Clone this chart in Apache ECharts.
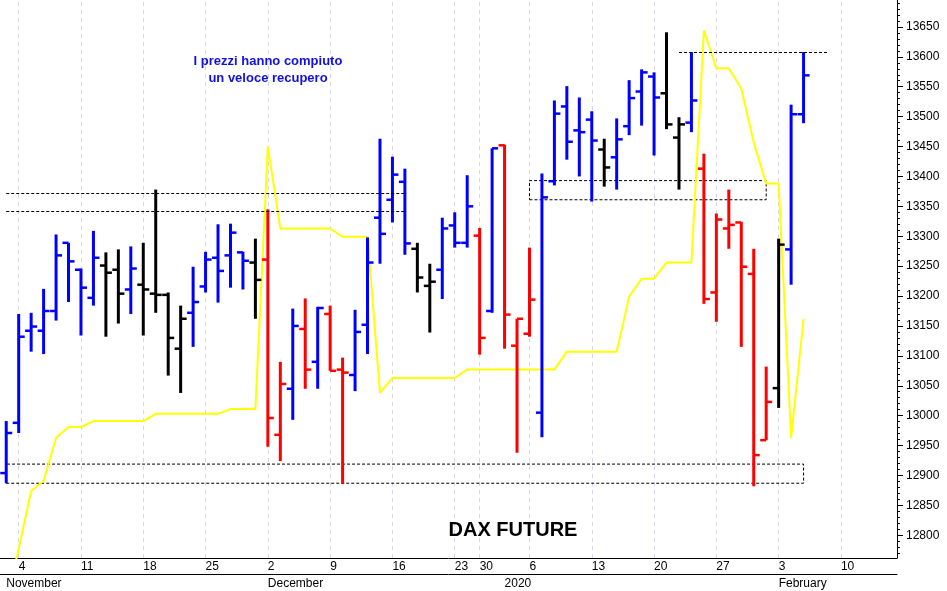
<!DOCTYPE html>
<html>
<head>
<meta charset="utf-8">
<script src="https://cdn.jsdelivr.net/npm/echarts@6/dist/echarts.min.js"></script>
<style>html,body{margin:0;padding:0;background:#fff}#main{width:947px;height:591px}</style>
</head>
<body>
<div id="main"></div>
<script>
// trading days
const novDays = [1,4,5,6,7,8,11,12,13,14,15,18,19,20,21,22,25,26,27,28,29]
const decDays = [2,3,4,5,6,9,10,11,12,13,16,17,18,19,20,23,27,30,31]
const janDays = [2,3,6,7,8,9,10,13,14,15,16,17,20,21,22,23,24,27,28,29,30,31]
const febDays = [3,4,5,6,7,10,11,12,13,14]

const highs = [12991,13170,13172,13212,13303,13289,13246,13309,13273,13278,13283,13289,13378,13206,13184,13249,13274,13320,13321,13274,13296,
  13345,13090,13179,13196,13182,13184,13097,13177,13298,13463,13433,13413,13289,13254,13331,13340,13402,13314,13447,
  13453,13162,13281,13405,13527,13551,13532,13509,13463,13497,13561,13579,13574,13641,13499,13608,13438,13338,13378,13324,13279,13082,
  13296,13520,13608]
const lows = [12887,12971,13107,13103,13159,13190,13134,13184,13132,13154,13170,13134,13172,13067,13038,13115,13206,13189,13214,13211,13162,
  12948,12924,12993,13045,13045,13075,12886,13041,13103,13254,13323,13269,13206,13139,13195,13281,13281,13102,13172,
  13112,12938,13132,12964,13385,13428,13400,13358,13383,13378,13469,13485,13435,13479,13378,13474,13187,13157,13279,13115,12882,12959,
  13013,13219,13489]
const opens = [12904,12988,13142,13142,13175,13289,13244,13197,13251,13244,13211,13219,13204,13202,13112,13172,13216,13264,13268,13273,13256,
  13261,12968,13045,13145,13090,13170,13077,13068,13152,13331,13361,13391,13279,13217,13244,13318,13289,13301,13175,
  13452,13117,13137,13005,13392,13517,13477,13495,13445,13432,13484,13542,13567,13539,13465,13490,13413,13206,13313,13323,13237,12959,
  13046,13278,13504]
const closes = [12971,13132,13149,13175,13268,13258,13214,13264,13239,13204,13246,13211,13202,13130,13162,13190,13261,13242,13306,13259,13227,
  12996,13053,13150,13077,13180,13075,13072,13140,13256,13304,13403,13288,13231,13224,13313,13289,13350,13130,13447,
  13169,13162,13194,13365,13505,13458,13474,13460,13415,13462,13531,13574,13532,13487,13487,13527,13195,13328,13319,13249,12934,13023,
  13286,13504,13569]
const barColors = 'bbbbbbbbkkbkkkkbbbbbk' + 'rrbrbrrbbbbbkkbbbrb' + 'rrrbbbbbkbbbbkkbrrrrrr' + 'kbb'
const yellowLine = [12690,12777,12874,12891,12963,12981,12981,12991,12991,12991,12991,12991,13003,13003,13003,13003,13003,13003,13011,13011,13011,
  13450,13313,13313,13313,13313,13313,13299,13299,13299,13038,13063,13063,13063,13063,13063,13063,13077,13077,13077,
  13077,13077,13077,13077,13077,13107,13107,13107,13107,13107,13199,13229,13229,13256,13256,13256,13644,13581,13581,13547,13457,13388,
  13388,12963,13162]
const yTicks = [12800,12850,12900,12950,13000,13050,13100,13150,13200,13250,13300,13350,13400,13450,13500,13550,13600,13650]

const pad = n => (n < 10 ? '0' : '') + n
const categories = [].concat(
  novDays.map(d => '2019-11-' + pad(d)),
  decDays.map(d => '2019-12-' + pad(d)),
  janDays.map(d => '2020-01-' + pad(d)),
  febDays.map(d => '2020-02-' + pad(d))
)
const weekStart = categories.map((c, i) => {
  if (i === 0) return false
  return new Date(c).getUTCDay() < new Date(categories[i - 1]).getUTCDay()
})
const monthStart = categories.map((c, i) => i === 0 || c.slice(5, 7) !== categories[i - 1].slice(5, 7))
const monthNames = { '11': 'November', '12': 'December', '01': '2020', '02': 'February' }
const colorMap = { b: '#0000ff', r: '#ff0000', k: '#000000' }

const ohlc = highs.map((h, i) => [i, opens[i], h, lows[i], closes[i]])
const minorTicks = []
for (let v = 12770; v <= 13690; v += 10) minorTicks.push(v)

const chart = echarts.init(document.getElementById('main'))
const dashBox = { color: 'rgba(0,0,0,0)', borderColor: '#000', borderWidth: 1, borderType: [3, 2] }
const dashLine = { color: '#000', width: 1, type: [3, 2] }

chart.setOption({
  animation: false,
  title: [
    { text: 'I prezzi hanno compiuto\nun veloce recupero', left: 263, top: 48, textAlign: 'center',
      textStyle: { color: '#1010e0', fontSize: 13, fontWeight: 'bold', fontFamily: 'Arial', lineHeight: 17 } },
    { text: 'DAX FUTURE', left: 508, top: 515, textAlign: 'center',
      textStyle: { color: '#000', fontSize: 20, fontWeight: 'bold', fontFamily: 'Arial' } }
  ],
  grid: { left: 0, right: 50, top: 0, bottom: 33 },
  xAxis: [
    {
      type: 'category', data: categories, boundaryGap: true,
      axisLine: { lineStyle: { color: '#000' } },
      axisTick: { interval: (i) => weekStart[i], length: 16, lineStyle: { color: '#000' } },
      axisLabel: { interval: (i) => weekStart[i], formatter: v => String(+v.slice(8)), align: 'left',
        margin: 3, color: '#000', fontSize: 12, fontFamily: 'Arial', hideOverlap: false },
      splitLine: { show: false }
    },
    {
      type: 'category', data: categories, boundaryGap: true, position: 'bottom', offset: 16,
      axisLine: { lineStyle: { color: '#000' } },
      axisTick: { interval: (i) => monthStart[i], length: 17, lineStyle: { color: '#000' } },
      axisLabel: { interval: (i) => monthStart[i], formatter: v => monthNames[v.slice(5, 7)], align: 'left',
        margin: 4, color: '#000', fontSize: 12, fontFamily: 'Arial' },
      splitLine: { show: false }
    }
  ],
  yAxis: [
    {
      type: 'value', position: 'right', min: 12762, max: 13695, scale: true,
      axisLine: { show: true, lineStyle: { color: '#000' } },
      axisTick: { show: true, customValues: yTicks, length: 6, lineStyle: { color: '#000' } },
      axisLabel: { customValues: yTicks, formatter: v => String(v), color: '#000', fontSize: 12, fontFamily: 'Arial', margin: 9 },
      splitLine: { show: false }
    },
    {
      type: 'value', position: 'right', min: 12762, max: 13695,
      axisLine: { show: false },
      axisTick: { show: true, customValues: minorTicks, length: 3, lineStyle: { color: '#000' } },
      axisLabel: { show: false },
      splitLine: { show: false }
    }
  ],
  series: [
    {
      // weekly guide lines
      type: 'line', data: [], z: 0, zlevel: 0,
      markLine: {
        z: 0, silent: true, symbol: 'none', label: { show: false },
        lineStyle: { color: '#d4d4ee', type: [4, 4], width: 1 },
        data: categories.filter((c, i) => weekStart[i]).map(c => ({ xAxis: c }))
      }
    },
    {
      type: 'line', data: yellowLine, symbol: 'none', z: 1,
      lineStyle: { color: '#ffff00', width: 2 }
    },
    {
      type: 'custom', z: 3,
      data: ohlc,
      encode: { x: 0, y: [1, 2, 3, 4] },
      renderItem: (params, api) => {
        const i = api.value(0)
        const o = api.coord([i, api.value(1)])
        const h = api.coord([i, api.value(2)])
        const l = api.coord([i, api.value(3)])
        const c = api.coord([i, api.value(4)])
        const col = colorMap[barColors[params.dataIndex]]
        return {
          type: 'group',
          children: [
            { type: 'line', shape: { x1: h[0], y1: h[1], x2: l[0], y2: l[1] }, style: { stroke: col, lineWidth: 3 } },
            { type: 'line', shape: { x1: o[0] - 6, y1: o[1], x2: o[0], y2: o[1] }, style: { stroke: col, lineWidth: 2.5 } },
            { type: 'line', shape: { x1: c[0], y1: c[1], x2: c[0] + 6, y2: c[1] }, style: { stroke: col, lineWidth: 2.5 } }
          ]
        }
      },
      markArea: {
        silent: true, itemStyle: dashBox,
        data: [
          [{ xAxis: '2019-11-01', yAxis: 12887 }, { xAxis: '2020-02-05', yAxis: 12919 }],
          [{ xAxis: '2020-01-06', yAxis: 13361 }, { xAxis: '2020-01-31', yAxis: 13393 }]
        ]
      },
      markLine: {
        silent: true, symbol: 'none', label: { show: false }, lineStyle: dashLine,
        data: [
          [{ xAxis: '2019-11-01', yAxis: 13342 }, { xAxis: '2019-12-17', yAxis: 13342 }],
          [{ xAxis: '2019-11-01', yAxis: 13372 }, { xAxis: '2019-12-17', yAxis: 13372 }],
          [{ xAxis: '2020-01-22', yAxis: 13608 }, { xAxis: '2020-02-07', yAxis: 13608 }]
        ]
      }
    }
  ]
})
</script>
</body>
</html>
